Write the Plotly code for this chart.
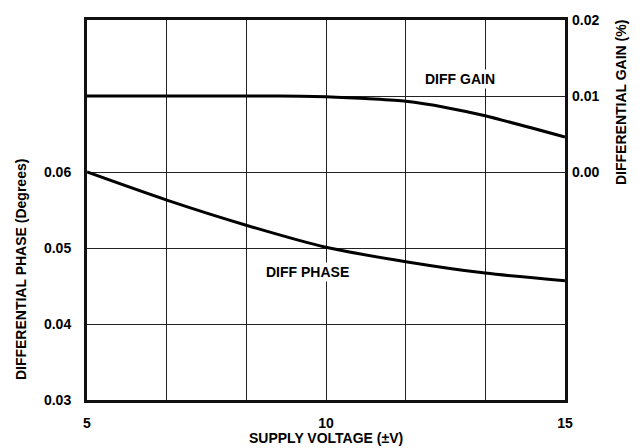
import plotly.graph_objects as go

voltage = [5, 6.67, 8.33, 10, 11.67, 13.33, 15]
diff_phase = [0.0600, 0.0563, 0.0530, 0.0501, 0.0482, 0.0467, 0.0457]
gain_voltage = [5, 7, 9, 10, 11, 11.67, 12.5, 13.33, 15]
diff_gain = [0.0100, 0.0100, 0.0100, 0.0099, 0.0096, 0.0093, 0.0085, 0.0074, 0.0046]

x_grid = [5, 5 + 5/3, 5 + 10/3, 10, 10 + 5/3, 10 + 10/3, 15]
x_text = ["5", "", "", "10", "", "", "15"]
y_grid = [0.03, 0.04, 0.05, 0.06, 0.07, 0.08]
y_text = ["0.03", "0.04", "0.05", "0.06", "", ""]
y2_ticks = [0.00, 0.01, 0.02]
y2_text = ["0.00", "0.01", "0.02"]

FONT = "Liberation Sans, Arial, Helvetica, sans-serif"
f = dict(family=FONT, size=14, color="black", weight="bold")

fig = go.Figure()
fig.add_trace(go.Scatter(x=voltage, y=diff_phase, mode="lines",
                         line=dict(color="black", width=3, shape="spline", smoothing=0.8),
                         showlegend=False, hoverinfo="skip"))
fig.add_trace(go.Scatter(x=gain_voltage, y=diff_gain, mode="lines", yaxis="y2",
                         line=dict(color="black", width=3, shape="spline", smoothing=0.6),
                         showlegend=False, hoverinfo="skip"))

fig.update_layout(
    width=644, height=448,
    margin=dict(l=87, r=79, t=20, b=48),
    paper_bgcolor="white", plot_bgcolor="white",
    font=f,
    xaxis=dict(range=[5, 15], tickvals=x_grid, ticktext=x_text, showgrid=True,
               gridcolor="#222", gridwidth=1, zeroline=False,
               showline=True, linecolor="#111", linewidth=3, mirror=True,
               ticks="", tickfont=f, ticklabelstandoff=8, automargin=False),
    yaxis=dict(range=[0.03, 0.08], tickvals=y_grid, ticktext=y_text, showgrid=True,
               gridcolor="#222", gridwidth=1, zeroline=False,
               showline=True, linecolor="#111", linewidth=3, mirror=True,
               ticks="", tickfont=f, ticklabelstandoff=10, automargin=False),
    yaxis2=dict(range=[-0.03, 0.02], tickvals=y2_ticks, ticktext=y2_text, overlaying="y",
                side="right", showgrid=False, zeroline=False, showline=False,
                ticks="", tickfont=f, ticklabelstandoff=6, automargin=False),
)

fig.add_annotation(text="SUPPLY VOLTAGE (±V)", xref="paper", yref="paper",
                   x=0.5, y=-0.1, showarrow=False, font=f,
                   xanchor="center", yanchor="middle")
fig.add_annotation(text="DIFFERENTIAL PHASE (Degrees)", xref="paper", yref="paper",
                   x=-0.138, y=0.342, textangle=-90, showarrow=False, font=f,
                   xanchor="center", yanchor="middle")
fig.add_annotation(text="DIFFERENTIAL GAIN (%)", xref="paper", yref="paper",
                   x=1.117, y=0.784, textangle=-90, showarrow=False, font=f,
                   xanchor="center", yanchor="middle")
fig.add_annotation(text="DIFF GAIN", x=12.8, y=0.0122, yref="y2", showarrow=False,
                   font=f, bgcolor="white")
fig.add_annotation(text="DIFF PHASE", x=9.61, y=0.0468, yref="y", showarrow=False,
                   font=f, bgcolor="white")

fig.write_html("out.html",
               config={"displayModeBar": False, "staticPlot": True},
               post_script="document.body.style.margin='0';document.body.style.overflow='hidden';")
